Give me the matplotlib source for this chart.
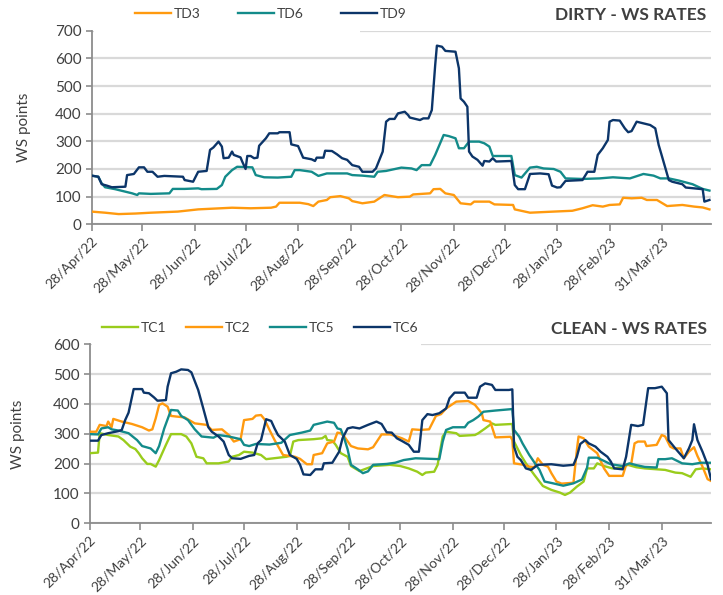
import datetime as dt
import matplotlib
matplotlib.use("Agg")
import matplotlib.pyplot as plt
from matplotlib.patches import Rectangle

plt.rcParams['font.family'] = ['Lato', 'DejaVu Sans']

BASE = dt.date(2022, 4, 28)

tick_dates = ['2022-04-28', '2022-05-28', '2022-06-28', '2022-07-28', '2022-08-28', '2022-09-28',
              '2022-10-28', '2022-11-28', '2022-12-28', '2023-01-28', '2023-02-28', '2023-03-31']
tick_labels = ['28/Apr/22', '28/May/22', '28/Jun/22', '28/Jul/22', '28/Aug/22', '28/Sep/22',
               '28/Oct/22', '28/Nov/22', '28/Dec/22', '28/Jan/23', '28/Feb/23', '31/Mar/23']

# ---------------- DIRTY (days since 28/Apr/22, WS points) ----------------
td3_days = [0, 8, 16, 26, 35, 51, 63, 83, 94, 106, 109, 111, 123, 128, 131, 134, 139, 141, 147, 152, 154,
            160, 167, 173, 181, 188, 190, 200, 202, 206, 209, 214, 218, 224, 226, 235, 238, 249, 250, 259,
            273, 284, 290, 296, 302, 306, 312, 314, 319, 325, 328, 334, 340, 349, 356, 361, 365]
td3_vals = [46, 42, 37, 39, 42, 46, 54, 60, 58, 60, 64, 78, 78, 73, 66, 82, 88, 98, 102, 94, 84,
            76, 82, 106, 98, 100, 108, 112, 127, 128, 112, 106, 76, 72, 82, 82, 72, 70, 54, 42,
            46, 49, 58, 69, 64, 70, 72, 96, 94, 96, 88, 88, 66, 70, 64, 61, 54]

td6_days = [0, 4, 6, 8, 14, 20, 24, 27, 28, 35, 46, 48, 55, 63, 65, 74, 77, 79, 83, 86, 95, 97, 102, 110,
            118, 120, 123, 130, 134, 139, 151, 154, 160, 167, 169, 174, 183, 189, 192, 195, 200, 203, 208,
            211, 215, 217, 220, 223, 229, 232, 235, 237, 248, 250, 254, 259, 263, 267, 273, 277, 280, 290,
            300, 308, 318, 326, 332, 336, 341, 347, 355, 361, 365]
td6_vals = [176, 172, 148, 134, 127, 118, 112, 106, 112, 110, 112, 128, 128, 130, 127, 128, 142, 172, 196,
            208, 206, 178, 170, 169, 172, 196, 196, 190, 175, 184, 184, 178, 176, 172, 190, 193, 205, 202,
            196, 214, 214, 251, 323, 319, 311, 275, 275, 299, 299, 293, 281, 247, 247, 178, 169, 205, 208,
            202, 200, 190, 166, 164, 166, 170, 166, 182, 176, 166, 166, 158, 145, 128, 122]

td9_days = [0, 4, 6, 9, 12, 20, 21, 25, 28, 31, 33, 36, 39, 43, 54, 55, 60, 63, 68, 70, 72, 75, 77, 78, 81,
            83, 84, 88, 89, 91, 92, 94, 96, 98, 99, 103, 105, 110, 111, 117, 118, 122, 125, 130, 132, 133,
            137, 138, 142, 145, 148, 151, 154, 158, 160, 166, 168, 172, 174, 176, 179, 181, 185, 187, 188,
            194, 196, 199, 201, 203, 204, 207, 209, 215, 217, 218, 220, 222, 223, 225, 228, 231, 232, 235,
            237, 239, 248, 250, 252, 256, 259, 265, 270, 272, 275, 277, 280, 290, 293, 297, 299, 302, 305,
            306, 308, 312, 315, 317, 319, 322, 330, 333, 335, 337, 341, 343, 349, 351, 361, 362, 364, 365]
td9_vals = [176, 172, 145, 140, 134, 136, 178, 182, 206, 206, 190, 190, 172, 175, 172, 160, 154, 190, 193,
            269, 278, 299, 281, 239, 241, 263, 251, 242, 227, 200, 247, 247, 239, 241, 284, 311, 329, 329,
            333, 333, 289, 283, 241, 235, 229, 241, 241, 266, 265, 253, 239, 233, 214, 208, 190, 190, 202,
            263, 371, 381, 381, 401, 407, 395, 386, 377, 383, 383, 413, 576, 646, 642, 627, 624, 564, 455,
            443, 425, 263, 245, 233, 212, 229, 227, 239, 227, 229, 142, 127, 127, 182, 184, 181, 140, 133,
            134, 157, 160, 190, 190, 251, 275, 305, 371, 377, 375, 347, 333, 337, 371, 359, 347, 287, 245,
            160, 154, 145, 133, 127, 82, 86, 88]

# ---------------- CLEAN ----------------
tc1_days = [0, 5, 6, 11, 17, 20, 24, 27, 29, 31, 34, 36, 39, 41, 45, 48, 54, 57, 60, 63, 67, 69, 76, 82, 84,
            88, 91, 96, 101, 104, 116, 118, 120, 123, 132, 137, 139, 140, 143, 145, 148, 152, 154, 159, 167,
            177, 183, 188, 193, 196, 198, 203, 205, 208, 210, 216, 218, 227, 229, 233, 237, 239, 249, 250,
            254, 257, 262, 267, 272, 277, 280, 283, 287, 291, 293, 297, 299, 303, 308, 314, 317, 322, 327,
            339, 345, 349, 354, 357, 361, 366]
tc1_vals = [235, 237, 302, 296, 291, 279, 257, 249, 235, 218, 199, 199, 190, 212, 263, 299, 299, 291, 268,
            223, 218, 201, 201, 207, 223, 229, 240, 237, 229, 215, 223, 226, 274, 279, 282, 285, 293, 279,
            277, 263, 235, 223, 192, 175, 192, 196, 192, 184, 173, 162, 170, 173, 196, 291, 307, 302, 293,
            296, 302, 318, 335, 330, 333, 274, 229, 201, 162, 125, 112, 103, 95, 103, 123, 140, 184, 184,
            201, 192, 184, 187, 196, 188, 184, 179, 170, 168, 156, 181, 184, 181]

tc2_days = [0, 4, 6, 10, 11, 13, 14, 19, 25, 31, 35, 37, 39, 41, 43, 46, 48, 51, 56, 62, 69, 72, 78, 82, 85,
            89, 91, 96, 98, 101, 103, 106, 109, 114, 121, 124, 128, 131, 132, 137, 140, 144, 146, 148, 150,
            154, 158, 164, 167, 172, 177, 181, 184, 188, 190, 195, 200, 204, 207, 210, 216, 223, 227, 231,
            232, 236, 239, 248, 249, 250, 256, 259, 262, 264, 267, 270, 272, 275, 278, 285, 287, 288, 291,
            294, 299, 303, 306, 314, 316, 319, 321, 323, 327, 328, 334, 337, 339, 342, 344, 348, 350, 353,
            356, 358, 361, 364, 366]
tc2_vals = [307, 307, 330, 326, 341, 322, 350, 341, 333, 322, 311, 315, 352, 397, 402, 391, 360, 358, 355,
            335, 330, 313, 315, 296, 274, 282, 346, 350, 361, 363, 349, 313, 279, 229, 223, 216, 198, 198,
            229, 235, 268, 274, 304, 302, 291, 259, 251, 248, 255, 298, 298, 291, 285, 274, 315, 313, 315,
            360, 366, 385, 408, 410, 397, 369, 346, 341, 288, 290, 279, 201, 196, 190, 188, 218, 196, 190,
            168, 140, 133, 136, 245, 291, 285, 257, 235, 184, 159, 159, 196, 199, 268, 274, 274, 259, 263,
            296, 291, 257, 251, 251, 218, 240, 255, 226, 190, 148, 142]

tc5_days = [0, 5, 7, 11, 13, 17, 23, 28, 31, 36, 39, 41, 44, 48, 52, 54, 58, 62, 66, 73, 76, 82, 89, 91, 94,
            98, 106, 113, 118, 125, 130, 132, 140, 144, 146, 148, 150, 152, 154, 158, 161, 164, 167, 175,
            180, 185, 192, 206, 208, 210, 214, 221, 223, 226, 229, 232, 239, 249, 250, 253, 255, 259, 265,
            268, 273, 279, 285, 290, 293, 294, 299, 303, 307, 314, 318, 322, 327, 334, 335, 339, 343, 349,
            355, 360, 366]
tc5_vals = [299, 298, 318, 322, 315, 311, 302, 279, 259, 251, 235, 259, 318, 380, 378, 360, 346, 315, 291,
            287, 296, 291, 282, 263, 259, 266, 264, 270, 296, 304, 311, 330, 341, 337, 318, 315, 285, 248,
            196, 181, 168, 174, 196, 199, 203, 212, 218, 215, 274, 313, 322, 322, 337, 346, 358, 374, 378,
            383, 313, 291, 268, 229, 179, 140, 134, 126, 134, 147, 186, 220, 220, 209, 198, 192, 201, 195,
            189, 187, 215, 215, 218, 201, 198, 203, 203]

tc6_days = [0, 5, 7, 11, 17, 19, 21, 23, 26, 31, 32, 35, 38, 40, 45, 46, 48, 51, 54, 58, 60, 64, 67, 70, 72,
            76, 79, 82, 84, 89, 94, 97, 99, 101, 104, 107, 109, 111, 115, 118, 122, 124, 126, 130, 133, 137,
            138, 143, 147, 149, 152, 155, 159, 164, 169, 172, 175, 178, 181, 184, 188, 191, 194, 196, 199,
            202, 206, 210, 212, 215, 221, 223, 228, 230, 233, 237, 239, 247, 249, 250, 252, 254, 257, 260,
            264, 272, 279, 285, 287, 289, 292, 294, 298, 301, 305, 307, 309, 314, 316, 319, 323, 326, 329,
            333, 337, 340, 341, 345, 350, 353, 355, 356, 358, 361, 364, 366]
tc6_vals = [277, 277, 296, 302, 309, 313, 346, 371, 450, 450, 438, 436, 422, 411, 413, 458, 503, 508, 516,
            514, 506, 447, 385, 322, 307, 291, 274, 229, 218, 216, 226, 229, 268, 279, 349, 343, 318, 296,
            274, 229, 216, 196, 164, 162, 181, 181, 201, 203, 240, 285, 318, 322, 318, 330, 341, 333, 305,
            304, 285, 276, 263, 240, 240, 346, 366, 363, 369, 385, 419, 438, 438, 421, 421, 458, 469, 464,
            447, 447, 449, 257, 223, 212, 184, 179, 196, 198, 193, 196, 223, 266, 279, 268, 257, 240, 223,
            207, 184, 181, 223, 330, 326, 330, 453, 453, 458, 436, 279, 251, 218, 251, 279, 332, 279, 240,
            196, 148]

dirty_series = [('TD3', td3_days, td3_vals, '#FF9A0F'),
                ('TD6', td6_days, td6_vals, '#138B8A'),
                ('TD9', td9_days, td9_vals, '#0C3569')]
clean_series = [('TC1', tc1_days, tc1_vals, '#99CC1C'),
                ('TC2', tc2_days, tc2_vals, '#FF9A0F'),
                ('TC5', tc5_days, tc5_vals, '#138B8A'),
                ('TC6', tc6_days, tc6_vals, '#0C3569')]


def to_dates(days):
    return [BASE + dt.timedelta(days=d) for d in days]


TXT = '#404040'
GRID = '#D9D9D9'
SPINE = '#8C8C8C'

fig = plt.figure(figsize=(7.23, 5.95), dpi=100)
ax1 = fig.add_axes([0.1266, 0.623, 0.857, 0.3254])
ax2 = fig.add_axes([0.1238, 0.1205, 0.8596, 0.3008])


def style(ax, series, ymax, leg_xy, colspace, cover_frac, label_x):
    for name, d, v, c in series:
        ax.plot(to_dates(d), v, color=c, lw=1.7, label=name, solid_joinstyle='round', zorder=3)
    ax.set_xlim(BASE, BASE + dt.timedelta(days=366))
    ax.set_ylim(0, ymax)
    ax.set_yticks(range(0, ymax + 1, 100))
    ax.set_xticks([dt.date.fromisoformat(s) for s in tick_dates])
    ax.set_xticklabels(tick_labels, rotation=45, ha='right', rotation_mode='anchor')
    ax.tick_params(axis='x', colors=SPINE, labelcolor=TXT, labelsize=10, length=5, width=1.2, pad=3)
    ax.tick_params(axis='y', colors=SPINE, labelcolor=TXT, labelsize=11, length=4, width=1.2, pad=3)
    ax.grid(axis='y', color=GRID, lw=1.6)
    ax.set_axisbelow(True)
    for s in ['top', 'right']:
        ax.spines[s].set_visible(False)
    for s in ['left', 'bottom']:
        ax.spines[s].set_color(SPINE)
        ax.spines[s].set_linewidth(1.3)
    ax.set_ylabel('WS points', color=TXT, fontsize=11)
    ax.yaxis.set_label_coords(label_x, 0.5)
    ax.add_patch(Rectangle((0.004, 0.985), cover_frac, 0.04, transform=ax.transAxes,
                           facecolor='white', edgecolor='none', zorder=1, clip_on=False))
    leg = ax.legend(loc='center', bbox_to_anchor=leg_xy, ncol=len(series), frameon=False,
                    fontsize=10, handlelength=2.6, handletextpad=0.2, columnspacing=colspace,
                    borderaxespad=0)
    for t in leg.get_texts():
        t.set_color(TXT)
    return leg


style(ax1, dirty_series, 700, (0.289, 1.088), 2.7, 0.43, -0.097)
style(ax2, clean_series, 600, (0.275, 1.091), 1.4, 0.53, -0.103)

fig.text(706 / 723, 1 - 15 / 595, 'DIRTY - WS RATES', ha='right', va='center',
         fontsize=12.5, fontweight='bold', color=TXT)
fig.text(707 / 723, 1 - 329 / 595, 'CLEAN - WS RATES', ha='right', va='center',
         fontsize=12.5, fontweight='bold', color=TXT)

fig.savefig('out.png', dpi=100)
